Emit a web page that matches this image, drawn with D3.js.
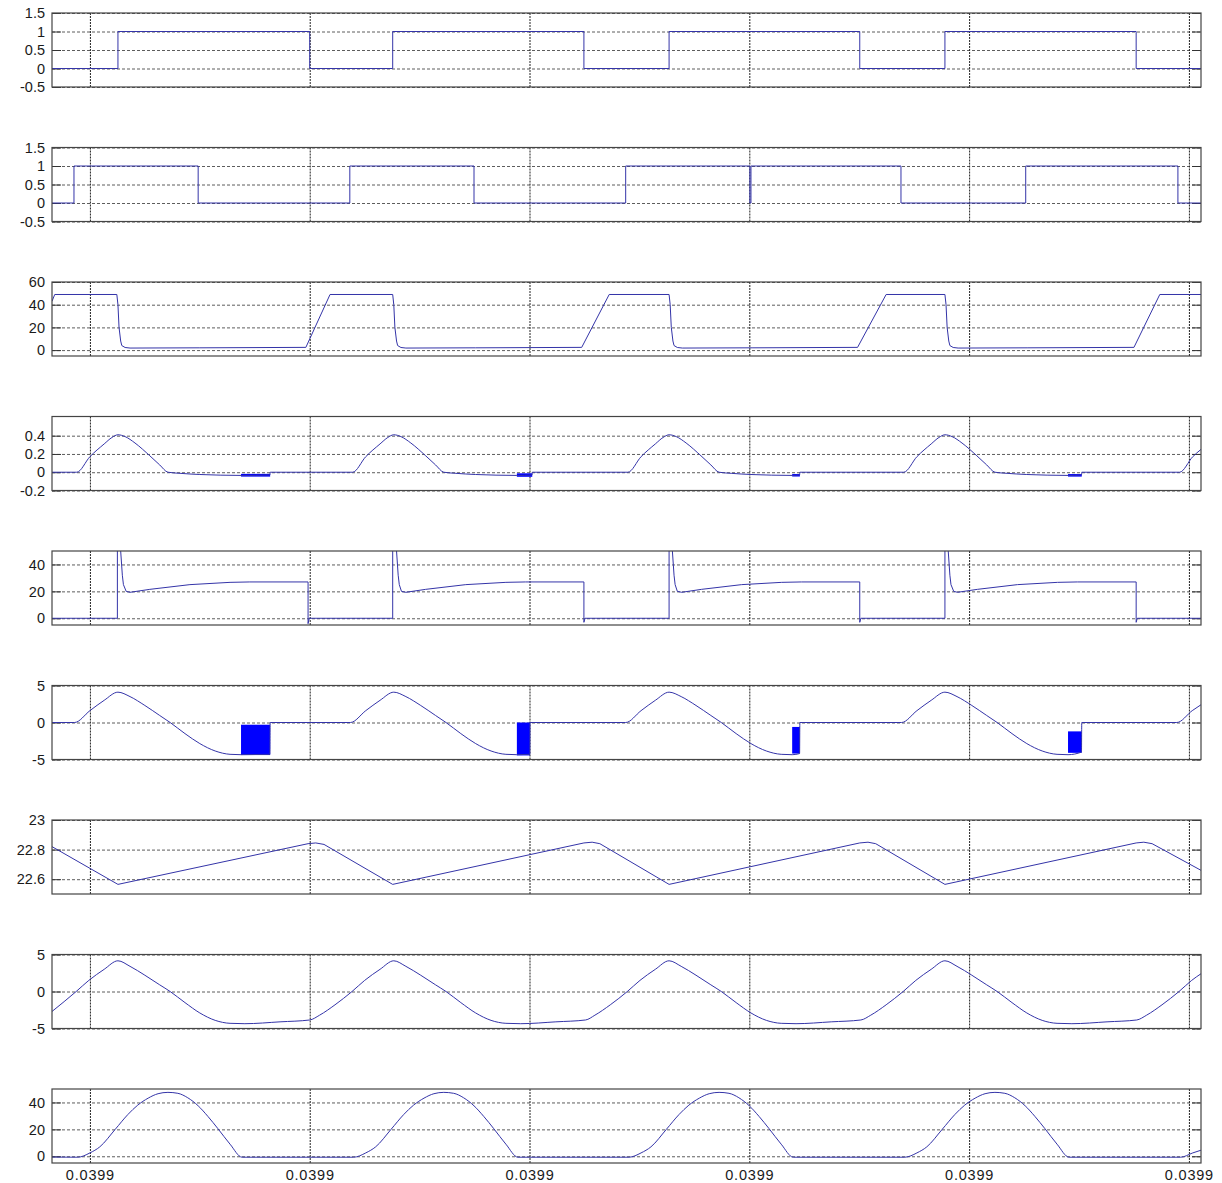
<!DOCTYPE html>
<html><head><meta charset="utf-8">
<script src="https://cdn.jsdelivr.net/npm/d3@7"></script>
<style>
body{margin:0;background:#fff}
text{font-family:"Liberation Sans",Arial,Helvetica,sans-serif}
</style>
</head><body><svg id="c" width="1222" height="1183"></svg>
<script>
// Time is given in microseconds after t = 39.9 ms.
const xDomain = [-0.69, 20.22];
const xTicks = [0, 4, 8, 12, 16, 20];

// gate signal 1 (step after)
const gate1 = [[-0.69,0],[0.51,1],[4.00,0],[5.51,1],[8.99,0],[10.54,1],[14.01,0],[15.56,1],[19.04,0],[20.22,0]];
// gate signal 2 (step after)
const gate2 = [[-0.69,0],[-0.29,1],[1.97,0],[4.73,1],[6.99,0],[9.75,1],[12.01,0],[12.03,1],[14.76,0],[17.03,1],[19.80,0],[20.22,0]];
// switch voltage
const vSwitch = [[-0.69,43],[-0.64,49],[0.49,49],[0.51,40],[0.53,20],[0.56,8],[0.58,4],[0.64,2.3],[0.73,1.8],[2.00,2.0],[3.93,2.4],[4.37,49],
  [5.51,49],[5.53,40],[5.55,20],[5.58,8],[5.60,4],[5.66,2.3],[5.75,1.8],[7.02,2.0],[8.95,2.4],[9.45,49],
  [10.54,49],[10.56,40],[10.58,20],[10.61,8],[10.63,4],[10.69,2.3],[10.78,1.8],[12.05,2.0],[13.97,2.4],[14.49,49],
  [15.56,49],[15.58,40],[15.60,20],[15.63,8],[15.65,4],[15.71,2.3],[15.80,1.8],[17.07,2.0],[19.00,2.4],[19.47,49],[20.22,49]];
// small-signal current
const iSmall = [[-0.69,0],[-0.24,0],[0.00,0.17],[0.26,0.31],[0.40,0.38],[0.51,0.41],[0.64,0.39],[0.82,0.32],[1.09,0.18],[1.27,0.08],[1.42,0],[1.64,-0.012],[2.00,-0.025],[2.37,-0.032],[2.75,-0.035],[3.275,-0.03],[3.28,0],
  [4.78,0],[5.02,0.17],[5.28,0.31],[5.42,0.38],[5.53,0.41],[5.66,0.39],[5.84,0.32],[6.11,0.18],[6.29,0.08],[6.44,0],[6.66,-0.012],[7.02,-0.025],[7.39,-0.032],[7.77,-0.035],[8.045,-0.03],[8.05,0],
  [9.79,0],[10.03,0.17],[10.29,0.31],[10.43,0.38],[10.54,0.41],[10.67,0.39],[10.85,0.32],[11.12,0.18],[11.30,0.08],[11.45,0],[11.67,-0.012],[12.03,-0.025],[12.40,-0.032],[12.78,-0.035],[12.915,-0.03],[12.92,0],
  [14.81,0],[15.05,0.17],[15.31,0.31],[15.45,0.38],[15.56,0.41],[15.69,0.39],[15.87,0.32],[16.14,0.18],[16.32,0.08],[16.47,0],[16.69,-0.012],[17.05,-0.025],[17.42,-0.032],[17.80,-0.035],[18.045,-0.03],[18.05,0],
  [19.83,0],[20.07,0.17],[20.22,0.25]];
const iSmallBursts = [[2.75,3.28,-0.048,-0.018],[7.77,8.05,-0.05,-0.012],[12.78,12.92,-0.047,-0.02],[17.80,18.05,-0.048,-0.02]];
// diode voltage
const vDiode = [[-0.69,0],[0.50,0],[0.50,80],[0.53,80],[0.56,50],[0.59,32],[0.61,25],[0.66,20],[0.73,19.3],[1.09,21.5],[1.82,25],[2.55,26.7],[2.91,27],[3.97,27],[3.97,-4],[3.99,0],
  [5.51,0],[5.51,80],[5.55,80],[5.58,50],[5.61,32],[5.63,25],[5.67,20],[5.75,19.3],[6.11,21.5],[6.84,25],[7.57,26.7],[7.93,27],[8.99,27],[8.99,-3],[9.01,0],
  [10.54,0],[10.54,80],[10.57,80],[10.60,50],[10.63,32],[10.65,25],[10.69,20],[10.77,19.3],[11.13,21.5],[11.86,25],[12.59,26.7],[12.95,27],[14.01,27],[14.01,-3],[14.03,0],
  [15.56,0],[15.56,80],[15.59,80],[15.62,50],[15.65,32],[15.67,25],[15.72,20],[15.79,19.3],[16.15,21.5],[16.88,25],[17.61,26.7],[17.97,27],[19.04,27],[19.04,-3],[19.06,0],[20.22,0]];
// inductor current
const iInd = [[-0.69,0],[-0.28,0],[0.00,1.6],[0.26,3.0],[0.51,4.1],[0.73,3.5],[1.00,2.3],[1.27,0.95],[1.46,0],[1.73,-1.5],[2.00,-2.85],[2.28,-3.85],[2.55,-4.3],[2.75,-4.35],[3.275,-4.3],[3.28,0],
  [4.74,0],[5.02,1.6],[5.28,3.0],[5.53,4.1],[5.75,3.5],[6.02,2.3],[6.29,0.95],[6.48,0],[6.75,-1.5],[7.02,-2.85],[7.30,-3.85],[7.57,-4.3],[7.77,-4.35],[8.005,-4.3],[8.01,0],
  [9.75,0],[10.03,1.6],[10.29,3.0],[10.54,4.1],[10.76,3.5],[11.03,2.3],[11.30,0.95],[11.49,0],[11.76,-1.5],[12.03,-2.85],[12.31,-3.85],[12.58,-4.3],[12.78,-4.35],[12.915,-4.2],[12.92,0],
  [14.77,0],[15.05,1.6],[15.31,3.0],[15.56,4.1],[15.78,3.5],[16.05,2.3],[16.32,0.95],[16.51,0],[16.78,-1.5],[17.05,-2.85],[17.33,-3.85],[17.60,-4.3],[17.80,-4.35],[18.045,-4.0],[18.05,0],
  [19.78,0],[20.06,1.6],[20.22,2.4]];
const iIndBursts = [[2.75,3.28,-4.4,-0.3],[7.77,8.01,-4.45,0],[12.78,12.92,-4.2,-0.6],[17.80,18.05,-4.1,-1.2]];
// output voltage
const vOut = [[-0.69,22.82],[0.51,22.565],[3.97,22.84],[4.11,22.845],[4.26,22.835],[5.51,22.565],[8.99,22.845],[9.14,22.85],[9.28,22.84],[10.54,22.565],
  [14.01,22.845],[14.16,22.85],[14.30,22.84],[15.56,22.565],[19.04,22.845],[19.18,22.85],[19.33,22.84],[20.22,22.66]];
// resonant current
const iRes = [[-0.69,-2.7],[-0.25,0],[-0.02,1.5],[0.26,3.0],[0.51,4.15],[0.73,3.4],[1.00,2.2],[1.27,0.9],[1.46,0],[1.73,-1.5],[2.00,-2.9],[2.28,-3.9],[2.55,-4.3],[2.82,-4.35],[3.46,-4.1],[4.00,-3.85],
  [4.18,-3.2],[4.46,-1.8],[4.77,0],[5.00,1.5],[5.28,3.0],[5.53,4.15],[5.75,3.4],[6.02,2.2],[6.29,0.9],[6.48,0],[6.75,-1.5],[7.02,-2.9],[7.30,-3.9],[7.57,-4.3],[7.84,-4.35],[8.48,-4.1],[9.02,-3.85],
  [9.19,-3.2],[9.47,-1.8],[9.78,0],[10.01,1.5],[10.29,3.0],[10.54,4.15],[10.76,3.4],[11.03,2.2],[11.30,0.9],[11.49,0],[11.76,-1.5],[12.03,-2.9],[12.31,-3.9],[12.58,-4.3],[12.85,-4.35],[13.49,-4.1],[14.03,-3.85],
  [14.21,-3.2],[14.49,-1.8],[14.80,0],[15.03,1.5],[15.31,3.0],[15.56,4.15],[15.78,3.4],[16.05,2.2],[16.32,0.9],[16.51,0],[16.78,-1.5],[17.05,-2.9],[17.33,-3.9],[17.60,-4.3],[17.87,-4.35],[18.51,-4.1],[19.05,-3.85],
  [19.23,-3.2],[19.51,-1.8],[19.82,0],[20.05,1.5],[20.22,2.4]];
// capacitor voltage
const vCap = [[-0.69,-0.6],[-0.22,-0.7],[0.00,2.5],[0.18,7],[0.46,20],[0.69,31],[0.87,38],[1.06,43.2],[1.24,46.5],[1.42,47.5],[1.60,46.8],[1.78,43.5],[1.97,37.5],[2.15,29.5],[2.33,20.5],[2.55,9],[2.77,-0.7],
  [4.80,-0.7],[5.02,2.5],[5.20,7],[5.48,20],[5.71,31],[5.89,38],[6.08,43.2],[6.26,46.5],[6.44,47.5],[6.62,46.8],[6.80,43.5],[6.99,37.5],[7.17,29.5],[7.35,20.5],[7.57,9],[7.79,-0.7],
  [9.81,-0.7],[10.03,2.5],[10.21,7],[10.49,20],[10.72,31],[10.90,38],[11.09,43.2],[11.27,46.5],[11.45,47.5],[11.63,46.8],[11.81,43.5],[12.00,37.5],[12.18,29.5],[12.36,20.5],[12.58,9],[12.80,-0.7],
  [14.83,-0.7],[15.05,2.5],[15.23,7],[15.51,20],[15.74,31],[15.92,38],[16.11,43.2],[16.29,46.5],[16.47,47.5],[16.65,46.8],[16.83,43.5],[17.02,37.5],[17.20,29.5],[17.38,20.5],[17.60,9],[17.82,-0.7],
  [19.85,-0.7],[20.07,2.5],[20.22,4.5]];

// y-axis ranges and tick labels per panel
const yDomains = [[-0.5,1.5],[-0.5,1.5],[-5.2,60],[-0.2,0.61],[-5,50],[-5,5],[22.5,23],[-5,5],[-5,50]];
const yTicks = [[-0.5,0,0.5,1,1.5],[-0.5,0,0.5,1,1.5],[0,20,40,60],[-0.2,0,0.2,0.4],[0,20,40],[-5,0,5],[22.6,22.8,23],[-5,0,5],[0,20,40]];
const yTickLabels = [["-0.5","0","0.5","1","1.5"],["-0.5","0","0.5","1","1.5"],["0","20","40","60"],["-0.2","0","0.2","0.4"],["0","20","40"],["-5","0","5"],["22.6","22.8","23"],["-5","0","5"],["0","20","40"]];

const panels = [
  {data: gate1, curve: d3.curveStepAfter},
  {data: gate2, curve: d3.curveStepAfter},
  {data: vSwitch, curve: d3.curveLinear},
  {data: iSmall, curve: d3.curveMonotoneX, bursts: iSmallBursts},
  {data: vDiode, curve: d3.curveLinear},
  {data: iInd, curve: d3.curveMonotoneX, bursts: iIndBursts},
  {data: vOut, curve: d3.curveLinear},
  {data: iRes, curve: d3.curveMonotoneX},
  {data: vCap, curve: d3.curveMonotoneX}
];

const svg = d3.select("#c");
const left = 52, right = 1201, firstTop = 13, pitch = 134.5, ph = 74;
const x = d3.scaleLinear().domain(xDomain).range([left, right]);
const lineColor = "#3434a8";
const fontFamily = '"Liberation Sans", Arial, sans-serif';
const defs = svg.append("defs");

panels.forEach((p, i) => {
  const top = firstTop + i * pitch, bottom = top + ph;
  const y = d3.scaleLinear().domain(yDomains[i]).range([bottom, top]);
  const g = svg.append("g");
  const clipId = "clip" + i;
  defs.append("clipPath").attr("id", clipId).append("rect")
    .attr("x", left).attr("y", top).attr("width", right - left).attr("height", ph);

  // horizontal grid
  g.append("g").attr("transform", `translate(${left},0)`)
    .call(d3.axisRight(y).tickValues(yTicks[i]).tickSize(right - left).tickFormat(""))
    .call(a => a.select(".domain").remove())
    .call(a => a.selectAll(".tick line").attr("stroke", "#333").attr("stroke-width", 0.8).attr("stroke-dasharray", "3,2"));
  // vertical grid
  g.append("g").attr("transform", `translate(0,${top})`)
    .call(d3.axisBottom(x).tickValues(xTicks).tickSize(ph).tickFormat(""))
    .call(a => a.select(".domain").remove())
    .call(a => a.selectAll(".tick line").attr("stroke", "#222").attr("stroke-width", 1).attr("stroke-dasharray", "2,1"));

  // inner tick marks, left and right
  g.append("g").attr("transform", `translate(${left},0)`)
    .call(d3.axisLeft(y).tickValues(yTicks[i]).tickSize(-9).tickFormat(""))
    .call(a => a.select(".domain").remove())
    .call(a => a.selectAll(".tick line").attr("stroke", "#333"));
  g.append("g").attr("transform", `translate(${right},0)`)
    .call(d3.axisRight(y).tickValues(yTicks[i]).tickSize(-9).tickFormat(""))
    .call(a => a.select(".domain").remove())
    .call(a => a.selectAll(".tick line").attr("stroke", "#333"));

  const plot = g.append("g").attr("clip-path", `url(#${clipId})`);
  if (p.bursts) {
    plot.selectAll("rect.burst").data(p.bursts).join("rect").attr("class", "burst")
      .attr("x", d => x(d[0])).attr("width", d => x(d[1]) - x(d[0]))
      .attr("y", d => y(d[3])).attr("height", d => y(d[2]) - y(d[3]))
      .attr("fill", "#0000ff");
  }
  const line = d3.line().x(d => x(d[0])).y(d => y(d[1])).curve(p.curve);
  plot.append("path").datum(p.data).attr("d", line)
    .attr("fill", "none").attr("stroke", lineColor).attr("stroke-width", 1);

  // frame
  g.append("rect").attr("x", left).attr("y", top).attr("width", right - left).attr("height", ph)
    .attr("fill", "none").attr("stroke", "#444").attr("stroke-width", 1.2);

  // y tick labels
  g.append("g").attr("transform", `translate(${left},0)`)
    .call(d3.axisLeft(y).tickValues(yTicks[i]).tickSize(0).tickPadding(7)
      .tickFormat((d, j) => yTickLabels[i][j]))
    .call(a => a.select(".domain").remove())
    .call(a => a.selectAll("text").attr("font-size", 14.5).attr("fill", "#1a1a1a")
      .attr("font-family", fontFamily));

  if (i === panels.length - 1) {
    g.append("g").attr("transform", `translate(0,${bottom})`)
      .call(d3.axisBottom(x).tickValues(xTicks).tickSize(0).tickPadding(7)
        .tickFormat(d => d3.format(".4f")(0.0399 + d * 1e-6)))
      .call(a => a.select(".domain").remove())
      .call(a => a.selectAll("text").attr("font-size", 14.5).attr("fill", "#1a1a1a")
        .attr("letter-spacing", "0.8px")
        .attr("font-family", fontFamily));
  }
});
</script>
</body></html>
